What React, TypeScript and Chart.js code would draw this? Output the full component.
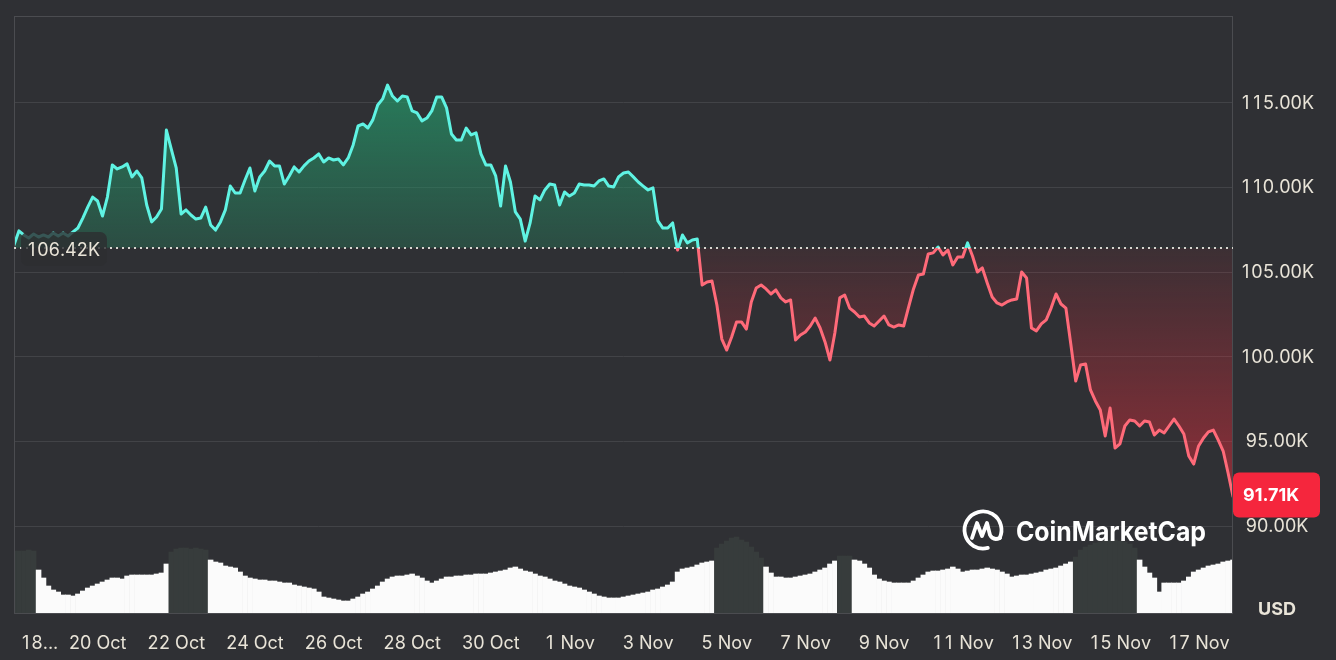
import React, { useEffect, useRef } from "react";
import { Chart, registerables } from "chart.js";

Chart.register(...registerables);

// ---- data ----
// hours relative to 18 Oct 00:00, one sample every 3 hours
const START_HOUR = -3;
const STEP_HOURS = 3;

// BTC price in thousands of USD
const priceK = [
  106.58, 107.41, 107.17, 106.99, 107.23, 107.05, 107.17, 107.05, 107.29, 107.11, 107.29, 107.11,
  107.35, 107.58, 108.17, 108.82, 109.41, 109.18, 108.29, 109.41, 111.31, 111.07, 111.19, 111.37,
  110.6, 110.95, 110.54, 108.94, 107.94, 108.23, 108.71, 113.37, 112.25, 111.13, 108.41, 108.65,
  108.35, 108.11, 108.17, 108.82, 107.76, 107.46, 107.94, 108.65, 110.06, 109.65, 109.65, 110.42,
  111.13, 109.77, 110.6, 110.95, 111.54, 111.25, 111.25, 110.18, 110.66, 111.19, 110.89, 111.25,
  111.54, 111.72, 111.96, 111.48, 111.72, 111.6, 111.66, 111.31, 111.72, 112.49, 113.61, 113.73,
  113.49, 113.97, 114.85, 115.21, 116.03, 115.38, 115.09, 115.38, 115.33, 114.5, 114.38, 113.91,
  114.08, 114.5, 115.33, 115.33, 114.68, 113.14, 112.78, 112.78, 113.49, 113.08, 113.2, 111.96,
  111.31, 111.31, 110.66, 108.88, 111.25, 110.3, 108.53, 108.11, 106.81, 107.88, 109.47, 109.24,
  109.83, 110.18, 110.12, 108.94, 109.71, 109.47, 109.65, 110.18, 110.12, 110.12, 110.06, 110.36,
  110.48, 110.06, 110.01, 110.6, 110.83, 110.89, 110.6, 110.3, 110.06, 109.83, 109.95, 108.0,
  107.58, 107.58, 107.88, 106.28, 107.17, 106.7, 106.87, 106.93, 104.21, 104.39, 104.45, 103.03,
  101.02, 100.37, 101.14, 102.03, 102.03, 101.61, 103.21, 104.04, 104.21, 103.98, 103.68, 103.92,
  103.45, 103.21, 103.33, 100.96, 101.26, 101.44, 101.79, 102.26, 101.67, 100.85, 99.78, 101.38,
  103.45, 103.62, 102.85, 102.62, 102.32, 102.38, 101.97, 101.79, 102.09, 102.38, 101.85, 101.73,
  101.85, 101.79, 102.91, 103.98, 104.8, 104.86, 106.05, 106.11, 106.46, 105.99, 106.28, 105.4,
  105.87, 105.87, 106.7, 105.93, 104.98, 105.22, 104.33, 103.5, 103.15, 103.03, 103.21, 103.33,
  103.39, 104.98, 104.63, 101.67, 101.5, 101.91, 102.15, 102.85, 103.68, 103.09, 102.85, 100.73,
  98.54, 99.49, 99.55, 98.01, 97.36, 96.83, 95.29, 96.94, 94.58, 94.82, 95.88, 96.24,
  96.18, 95.88, 96.18, 96.12, 95.35, 95.64, 95.47, 95.88, 96.29, 95.88, 95.41, 94.11,
  93.63, 94.7, 95.17, 95.53, 95.64, 95.05, 94.4, 93.1, 91.71,
];

// trading volume (relative units), same timestamps
const volume = [
  31.5, 31.5, 31.5, 32, 31.5,
  22, 18, 14, 12, 11, 9.5, 9.5,
  9, 10, 11.5, 13, 14, 15, 16, 17, 18, 18, 17.5, 19,
  19.5, 19.5, 19.5, 19.5, 19.5, 20, 20.5, 25,
  31, 32.5, 33, 33, 32.5, 33, 32.5, 32,
  27, 26, 25.5, 24, 23.5, 23, 21, 19,
  18, 17.5, 17, 17, 16.5, 16.5, 16, 15.5, 15.5, 14.5, 14, 13.5,
  13, 12.5, 11, 8.5, 8, 7.5, 7, 6.5, 6.5, 7.5, 8.5, 10,
  11, 12.5, 14, 16, 17.5, 18.5, 19, 19, 19.5, 20, 19, 18,
  16.5, 15.5, 16.5, 17.5, 18.5, 18.5, 19, 19, 19.5, 19.5, 20, 20,
  20, 20.5, 21, 21.5, 22, 23, 23.5, 22.5, 21.5, 21, 20, 19,
  18.5, 17.5, 16.5, 16, 15, 14, 13.5, 13, 12, 11, 10, 9,
  8.5, 8, 8, 8, 8.5, 9, 9.5, 10, 10.5, 11, 12, 12.5,
  13.5, 14.5, 16, 21, 22.5, 23, 23.5, 24.5, 25.5, 26, 26.5,
  33, 35, 36.5, 38, 38.5, 37, 36, 33.5, 31, 28,
  23.5, 20.5, 18.5, 18.5, 18, 18, 18.5, 19, 19.5, 20, 21, 22, 23, 25, 26.5,
  29, 29, 29,
  27, 26.5, 25, 23, 19.5, 17.5, 16.5, 16, 15.5, 15.5, 15.5, 15.5, 16.5, 18, 19.5,
  21, 21.5, 21.5, 22, 22.5, 23.5, 22.5, 21, 21.5, 22, 22, 22.5, 23, 22.5, 22,
  21, 20, 18.5, 19, 19.5, 19.5, 20, 20.5, 21, 22, 22.5, 23, 24, 25, 26,
  28.5, 32, 33.5, 34.5, 35.5, 36, 36.5, 37, 37, 36.5, 36, 35, 33,
  27, 23.5, 20.5, 18, 11, 15.5, 15.5, 15.5, 15.5, 16.5, 18.5, 21, 22, 23, 24, 24.5, 25, 26, 26.5, 27,
];

// index ranges of the bars shown in the dark shade
const darkVolumeRanges = [
  [0, 4],
  [32, 39],
  [143, 152],
  [168, 170],
  [216, 228],
];

const basePrice = 106.42;
const lastPrice = 91.71;
const yTicks = [90, 95, 100, 105, 110, 115];
const xTickHours = [0, 48, 96, 144, 192, 240, 288, 336, 384, 432, 480, 528, 576, 624, 672, 720];
const xTickLabels = [
  "18...", "20 Oct", "22 Oct", "24 Oct", "26 Oct", "28 Oct", "30 Oct", "1 Nov",
  "3 Nov", "5 Nov", "7 Nov", "9 Nov", "11 Nov", "13 Nov", "15 Nov", "17 Nov",
];

// ---- styles ----
const BG = "#2f3034";
const TEXT = "#e9e4d8";
const GRID = "#424347";
const FRAME = "#4b4c50";
const UP = "#5ff3e3";
const DOWN = "#ff6a79";
const FONT = "Inter, 'Noto Sans', sans-serif";

const fmtK = (v: number) => v.toFixed(2) + "K";

function isDark(i: number) {
  return darkVolumeRanges.some(([a, b]) => i >= a && i <= b);
}

// text with fixed-width (tabular) digits
function tabWidth(ctx: CanvasRenderingContext2D, text: string) {
  const dw = ctx.measureText("0").width;
  let t = 0;
  for (const ch of text) t += /[0-9]/.test(ch) ? dw : ctx.measureText(ch).width;
  return t;
}
function drawTab(ctx: CanvasRenderingContext2D, text: string, x: number, y: number, align: "left" | "center") {
  const dw = ctx.measureText("0").width;
  const total = tabWidth(ctx, text);
  let cx = align === "center" ? x - total / 2 : x;
  ctx.textAlign = "left";
  for (const ch of text) {
    const cw = ctx.measureText(ch).width;
    const w = /[0-9]/.test(ch) ? dw : cw;
    ctx.fillText(ch, cx + (w - cw) / 2, y);
    cx += w;
  }
}

export default function App() {
  const ref = useRef<HTMLCanvasElement | null>(null);

  useEffect(() => {
    document.body.style.margin = "0";
    document.body.style.background = BG;
    const canvas = ref.current;
    if (!canvas) return;

    const xs = priceK.map((_, i) => START_HOUR + i * STEP_HOURS);
    const maxP = Math.max(...priceK);
    const minP = Math.min(...priceK);

    const overlay = {
      id: "overlay",
      beforeDatasetsDraw(chart: any) {
        const { ctx, chartArea: a, scales } = chart;
        ctx.save();
        ctx.strokeStyle = GRID;
        ctx.lineWidth = 1;
        yTicks.forEach((v) => {
          const y = Math.round(scales.y.getPixelForValue(v)) + 0.5;
          ctx.beginPath();
          ctx.moveTo(a.left, y);
          ctx.lineTo(a.right, y);
          ctx.stroke();
        });
        ctx.restore();
      },
      afterDatasetsDraw(chart: any) {
        const { ctx, chartArea: a, scales } = chart;
        ctx.save();
        // frame
        ctx.strokeStyle = FRAME;
        ctx.lineWidth = 1;
        ctx.strokeRect(a.left + 0.5, a.top + 0.5, a.right - a.left - 1, a.bottom - a.top - 1);

        // dotted base line
        const by = Math.round(scales.y.getPixelForValue(basePrice));
        ctx.strokeStyle = "#d8d6d0";
        ctx.lineWidth = 2;
        ctx.setLineDash([2, 4]);
        ctx.beginPath();
        ctx.moveTo(a.left, by);
        ctx.lineTo(a.right, by);
        ctx.stroke();
        ctx.setLineDash([]);

        // base price label
        ctx.fillStyle = "rgba(45,46,49,0.8)";
        ctx.beginPath();
        (ctx as any).roundRect(a.left + 7, by - 16, 86, 34, 7);
        ctx.fill();
        ctx.fillStyle = TEXT;
        ctx.font = `18px ${FONT}`;
        ctx.textBaseline = "middle";
        drawTab(ctx, fmtK(basePrice), a.left + 12, by + 3, "left");

        // y tick labels
        const labelCenter = a.right + 44;
        yTicks.forEach((v) => {
          drawTab(ctx, fmtK(v), labelCenter, scales.y.getPixelForValue(v) + 1, "center");
        });

        // last price badge
        const ly = scales.y.getPixelForValue(lastPrice);
        ctx.fillStyle = "#f5263d";
        ctx.beginPath();
        (ctx as any).roundRect(a.right, ly - 24, 87, 45, 6);
        ctx.fill();
        ctx.fillStyle = "#ffffff";
        ctx.font = `bold 18px ${FONT}`;
        ctx.textAlign = "left";
        ctx.fillText(fmtK(lastPrice), a.right + 10, ly - 1);

        // currency
        ctx.fillStyle = TEXT;
        ctx.font = `bold 18px ${FONT}`;
        ctx.textAlign = "center";
        ctx.fillText("USD", labelCenter, a.bottom - 4);

        // x tick labels
        ctx.font = `18px ${FONT}`;
        ctx.fillStyle = TEXT;
        xTickHours.forEach((h, i) => {
          const label = xTickLabels[i];
          const px = scales.x.getPixelForValue(h);
          const w = tabWidth(ctx, label);
          let left = px - w / 2;
          if (left < a.left + 6) left = a.left + 6;
          drawTab(ctx, label, left, a.bottom + 30, "left");
        });

        // watermark logo
        const cx = 983;
        const cy = 530;
        ctx.strokeStyle = "#ffffff";
        ctx.lineWidth = 3.8;
        ctx.lineCap = "round";
        ctx.lineJoin = "round";
        ctx.beginPath();
        ctx.arc(cx, cy, 18.5, (75 * Math.PI) / 180, (385 * Math.PI) / 180);
        ctx.stroke();
        ctx.beginPath();
        ctx.moveTo(cx - 11, cy + 8);
        ctx.lineTo(cx - 6, cy - 7);
        ctx.lineTo(cx - 1, cy + 6);
        ctx.lineTo(cx + 4, cy - 7);
        ctx.lineTo(cx + 7, cy + 5);
        ctx.quadraticCurveTo(cx + 10, cy + 11, cx + 17, cy + 8);
        ctx.stroke();
        ctx.fillStyle = "#ffffff";
        ctx.font = `bold 27px ${FONT}`;
        ctx.textAlign = "left";
        ctx.textBaseline = "alphabetic";
        ctx.fillText("CoinMarketCap", 1016, 541, 190);
        ctx.restore();
      },
    };

    const chart = new Chart(canvas, {
      type: "line",
      data: {
        datasets: [
          {
            type: "line",
            data: priceK.map((v, i) => ({ x: xs[i], y: v })),
            yAxisID: "y",
            order: 0,
            borderWidth: 3,
            pointRadius: 0,
            tension: 0,
            borderJoinStyle: "round",
            borderCapStyle: "round",
            fill: { value: basePrice },
            borderColor: (c: any) => {
              const ch = c.chart;
              const a = ch.chartArea;
              if (!a) return UP;
              const by = ch.scales.y.getPixelForValue(basePrice);
              const s = Math.min(1, Math.max(0, (by - a.top) / (a.bottom - a.top)));
              const g = ch.ctx.createLinearGradient(0, a.top, 0, a.bottom);
              g.addColorStop(0, UP);
              g.addColorStop(s, UP);
              g.addColorStop(s, DOWN);
              g.addColorStop(1, DOWN);
              return g;
            },
            backgroundColor: (c: any) => {
              const ch = c.chart;
              const a = ch.chartArea;
              if (!a) return "rgba(40,140,100,0.5)";
              const t = ch.scales.y.getPixelForValue(maxP);
              const b = ch.scales.y.getPixelForValue(minP);
              const by = ch.scales.y.getPixelForValue(basePrice);
              const s = (by - t) / (b - t);
              const g = ch.ctx.createLinearGradient(0, t, 0, b);
              g.addColorStop(0, "rgba(38,145,102,0.78)");
              g.addColorStop(s, "rgba(38,140,100,0.32)");
              g.addColorStop(s, "rgba(235,45,60,0.07)");
              g.addColorStop(1, "rgba(235,45,60,0.5)");
              return g;
            },
          } as any,
          {
            type: "bar",
            data: volume.map((v, i) => ({ x: xs[i], y: v })),
            yAxisID: "yVol",
            order: 1,
            barPercentage: 1,
            categoryPercentage: 1,
            borderWidth: 0,
            backgroundColor: volume.map((_, i) => (isDark(i) ? "#373c3c" : "#fbfbfb")),
          } as any,
        ],
      },
      options: {
        responsive: false,
        animation: false,
        devicePixelRatio: 1,
        layout: { padding: { left: 14, top: 16, right: 103, bottom: 46 } },
        plugins: { legend: { display: false }, tooltip: { enabled: false } },
        scales: {
          x: {
            type: "linear",
            display: false,
            offset: false,
            min: START_HOUR,
            max: START_HOUR + (priceK.length - 1) * STEP_HOURS,
          },
          y: { type: "linear", display: false, min: 84.77, max: 120.11 },
          yVol: { type: "linear", display: false, min: 0, max: 299 },
        },
      } as any,
      plugins: [overlay],
    });

    return () => chart.destroy();
  }, []);

  return (
    <div style={{ position: "absolute", left: 0, top: 0, width: 1336, height: 660, background: BG }}>
      <canvas ref={ref} width={1336} height={660} style={{ display: "block" }} />
    </div>
  );
}
